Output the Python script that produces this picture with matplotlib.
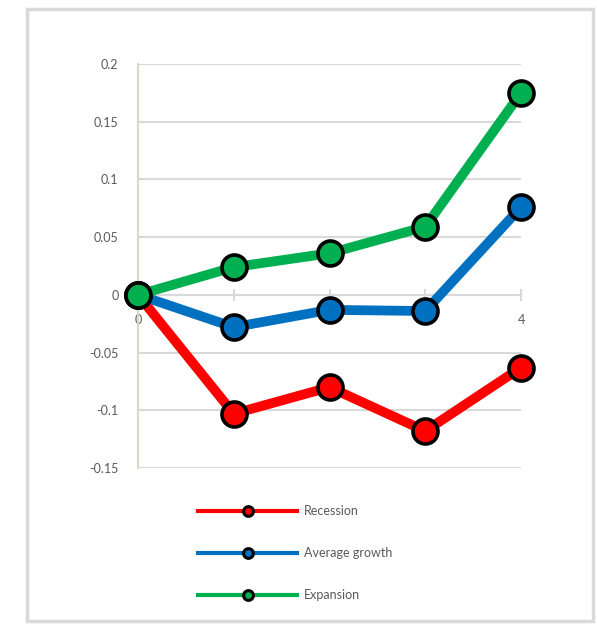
import matplotlib
matplotlib.use("Agg")
import matplotlib.pyplot as plt
from matplotlib.lines import Line2D
from matplotlib.patches import Rectangle
from matplotlib.ticker import FuncFormatter

plt.rcParams['font.family'] = ['Lato', 'DejaVu Sans']
plt.rcParams['axes.unicode_minus'] = False

x = [0, 1, 2, 3, 4]
recession = [0, -0.103, -0.080, -0.118, -0.063]
average_growth = [0, -0.028, -0.013, -0.014, 0.076]
expansion = [0, 0.024, 0.036, 0.059, 0.175]
labels = ["Recession", "Average growth", "Expansion"]
colors = ["#ff0000", "#0070c0", "#00b050"]
yticks = [-0.15, -0.1, -0.05, 0, 0.05, 0.1, 0.15, 0.2]

W, H = 597, 624
fig = plt.figure(figsize=(W / 100, H / 100), dpi=100)
fig.patch.set_facecolor("white")
fig.patches.append(Rectangle((27 / W, 1 - 621 / H), (593 - 27) / W, (621 - 9) / H,
                             transform=fig.transFigure, fill=False,
                             edgecolor="#d9d9d9", lw=2.5, zorder=0))

left, right, top, bottom = 138, 521, 64, 468
ax = fig.add_axes([left / W, 1 - bottom / H, (right - left) / W, (bottom - top) / H])
ax.set_xlim(0, 4)
ax.set_ylim(-0.15, 0.2)
ax.set_axisbelow(True)

for ser, c in zip([recession, average_growth, expansion], colors):
    ax.plot(x, ser, color=c, lw=7, marker="o", markersize=18,
            markerfacecolor=c, markeredgecolor="black", markeredgewidth=2.6,
            clip_on=False, zorder=3)

ax.set_yticks(yticks)
ax.yaxis.set_major_formatter(FuncFormatter(lambda v, p: ("%g" % round(v, 2))))
ax.grid(axis="y", color="#d9d9d9", lw=1.5)
ax.tick_params(axis="y", length=0, pad=14, labelsize=9, labelcolor="#595959")

ax.set_xticks(x)
ax.set_xticklabels([str(v) for v in x])
ax.spines["bottom"].set_position(("data", 0))
ax.spines["bottom"].set_color("#d9d9d9")
ax.spines["bottom"].set_linewidth(1.5)
ax.tick_params(axis="x", direction="inout", length=8, width=1.5, color="#d9d9d9",
               pad=10, labelsize=9, labelcolor="#595959")
ax.spines["left"].set_color("#dcd8c4")
ax.spines["left"].set_linewidth(1.5)
ax.spines["top"].set_visible(False)
ax.spines["right"].set_visible(False)

handles = [Line2D([], [], color=c, lw=3, marker="o", markersize=7,
                  markerfacecolor=c, markeredgecolor="black", markeredgewidth=2.2)
           for c in colors]
leg = fig.legend(handles, labels, loc="upper left",
                 bbox_to_anchor=(192 / W, 1 - 499 / H), frameon=False,
                 borderpad=0, handlelength=7.9, handletextpad=0.55,
                 labelspacing=2.4, numpoints=1, fontsize=9)
for t in leg.get_texts():
    t.set_color("#595959")

fig.savefig("out.png", dpi=100)
